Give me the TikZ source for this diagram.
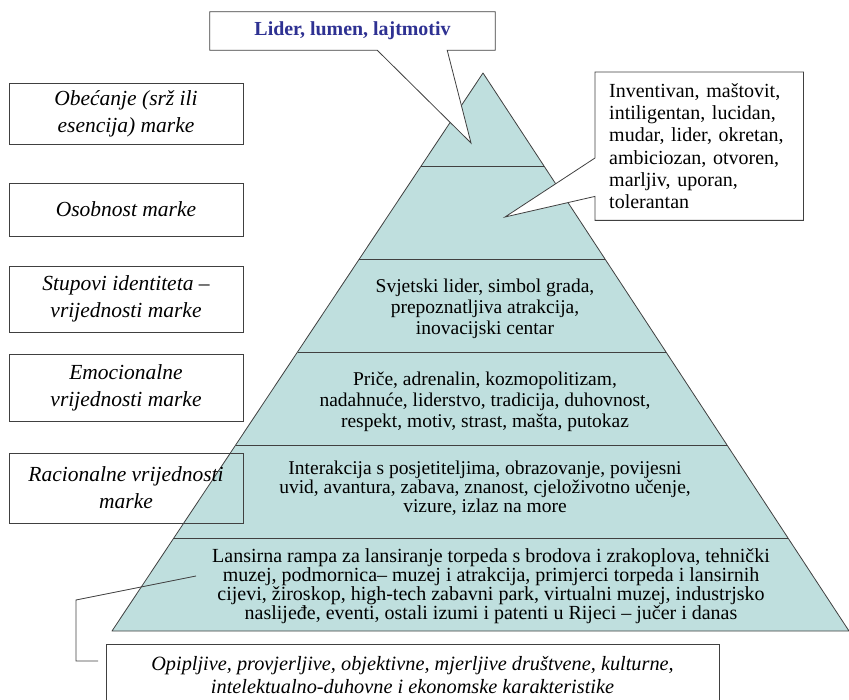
\documentclass[tikz,border=0pt]{standalone}
\usepackage{fontspec}
\setmainfont{Liberation Serif}
\usetikzlibrary{backgrounds,calc}
\definecolor{pyrfill}{RGB}{191,223,222}
\definecolor{liderblue}{RGB}{46,49,146}
\definecolor{edgegray}{RGB}{64,64,64}

\begin{document}
\begin{tikzpicture}[x=1pt, y=-1pt,
    levelbox/.style={draw=edgegray, line width=0.8pt, minimum width=234pt, inner sep=0pt,
      align=center, font=\fontsize{21.5}{27}\selectfont\itshape},
    tiertext/.style={align=center, font=\fontsize{19.5}{21}\selectfont},
    callout/.style={draw=edgegray, fill=white, line width=0.8pt}]
    \useasboundingbox (0,0) rectangle (849,700);

    % razine piramide (lijevo)
    \node (obecanje) [levelbox, minimum height=61pt] at (126,113.5) {Obećanje (srž ili\\esencija) marke};
    \node (osobnost) [levelbox, minimum height=53pt] at (126,209.5) {Osobnost marke};
    \node (stupovi) [levelbox, minimum height=66pt] at (126,299) {Stupovi identiteta --\\vrijednosti marke};
    \node (emocije) [levelbox, minimum height=67pt] at (126,387.5) {Emocionalne\\vrijednosti marke};
    \node (racio) [levelbox, minimum height=70pt] at (126,488) {Racionalne vrijednosti\\marke};

    % piramida
    \coordinate (vrh) at (483,73);
    \coordinate (dl) at (112,631);
    \coordinate (dd) at (849,631);

    \node (stupovitxt) [tiertext] at (485,308.5) {Svjetski lider, simbol grada,\\prepoznatljiva atrakcija,\\inovacijski centar};
    \node (emocijetxt) [tiertext] at (485,402) {Priče, adrenalin, kozmopolitizam,\\nadahnuće, liderstvo, tradicija, duhovnost,\\respekt, motiv, strast, mašta, putokaz};
    \node (raciotxt) [tiertext, font=\fontsize{19.5}{19}\selectfont] at (485,488) {Interakcija s posjetiteljima, obrazovanje, povijesni\\uvid, avantura, zabava, znanost, cjeloživotno učenje,\\vizure, izlaz na more};
    \node (temeljtxt) [tiertext, font=\fontsize{20}{17.5}\selectfont] at (491,586) {Lansirna rampa za lansiranje torpeda s brodova i zrakoplova, tehnički\\muzej, podmornica-- muzej i atrakcija, primjerci torpeda i lansirnih\\cijevi, žiroskop, high-tech zabavni park, virtualni muzej, industrjsko\\naslijeđe, eventi, ostali izumi i patenti u Rijeci -- jučer i danas};

    % oblacici
    \node (lider) [minimum width=285pt, minimum height=38pt, inner sep=0pt, text=liderblue,
      font=\fontsize{19.9}{21}\selectfont\bfseries] at (352.5,31) {Lider, lumen, lajtmotiv};
    \coordinate (lidervrh) at (471,143);
    \node (osobine) [anchor=north west, minimum width=208pt, minimum height=148pt, text width=180pt,
      inner xsep=14pt, align=left, font=\fontsize{20}{22.2}\selectfont] at (595,72)
      {Inventivan, maštovit,\\intiligentan, lucidan,\\mudar, lider, okretan,\\ambiciozan, otvoren,\\marljiv, uporan,\\tolerantan};
    \coordinate (osobinevrh) at (505,217);

    \node (opis) [draw=edgegray, line width=0.8pt, anchor=north, minimum width=613pt, minimum height=62pt,
      align=center, font=\fontsize{20.3}{23}\selectfont\itshape] at (412.5,644)
      {Opipljive, provjerljive, objektivne, mjerljive društvene, kulturne,\\intelektualno-duhovne i ekonomske karakteristike};
    \coordinate (temeljvrh) at (196,576);
    \coordinate (opiskraj) at (98,661);

    \begin{scope}[on background layer]
      \draw[edgegray, line width=0.8pt, fill=pyrfill, line join=round] (vrh) -- (dd) -- (dl) -- cycle;
      \foreach \t in {1,...,5}
        \draw[edgegray, line width=0.8pt] ($(vrh)!\t/6!(dl)$) -- ($(vrh)!\t/6!(dd)$);
      \draw[callout] (lider.north west) -- (lider.north east) -- (lider.south east)
        -- ([xshift=-48pt]lider.south east) -- (lidervrh) -- ([xshift=-118pt]lider.south east)
        -- (lider.south west) -- cycle;
      \draw[callout] (osobine.north west) -- (osobine.north east) -- (osobine.south east)
        -- (osobine.south west) -- ([yshift=24pt]osobine.south west) -- (osobinevrh)
        -- ([yshift=-86pt]osobine.north west) -- cycle;
    \end{scope}

    \draw[edgegray, line width=0.8pt] (temeljvrh) -- (76,600) |- (opiskraj);
\end{tikzpicture}
\end{document}
